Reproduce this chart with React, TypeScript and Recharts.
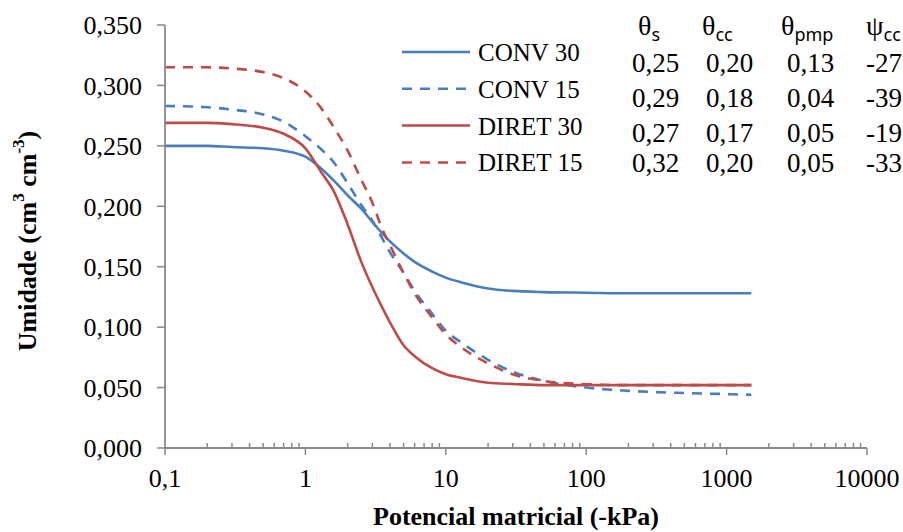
import React from 'react';
import { LineChart, Line, XAxis, YAxis, Legend } from 'recharts';

// matric potential (-kPa) where the curves were read
const potentials = [0.1, 0.2, 0.3, 0.5, 0.7, 1, 1.3, 1.6, 2, 2.5, 3, 3.5, 4, 5, 6, 8, 10, 13, 20, 30, 50, 100, 200, 500, 1000, 1500];

// water content (cm3 cm-3)
const conv30 = [0.25, 0.25, 0.249, 0.248, 0.246, 0.241, 0.231, 0.221, 0.209, 0.198, 0.187, 0.178, 0.171, 0.161, 0.154, 0.146, 0.141, 0.137, 0.132, 0.13, 0.129, 0.1285, 0.128, 0.128, 0.128, 0.128];
const conv15 = [0.283, 0.282, 0.28, 0.276, 0.27, 0.258, 0.247, 0.236, 0.219, 0.201, 0.188, 0.174, 0.162, 0.145, 0.13, 0.111, 0.097, 0.087, 0.073, 0.063, 0.0555, 0.05, 0.0473, 0.0455, 0.0446, 0.044];
const diret30 = [0.269, 0.269, 0.268, 0.265, 0.26, 0.248, 0.228, 0.212, 0.185, 0.154, 0.133, 0.117, 0.104, 0.085, 0.076, 0.066, 0.061, 0.058, 0.054, 0.053, 0.052, 0.052, 0.052, 0.052, 0.052, 0.052];
const diret15 = [0.315, 0.315, 0.314, 0.311, 0.306, 0.295, 0.281, 0.265, 0.246, 0.222, 0.203, 0.182, 0.168, 0.145, 0.128, 0.108, 0.094, 0.083, 0.07, 0.061, 0.0555, 0.0528, 0.052, 0.052, 0.052, 0.052];

const majorTicks = [0.1, 1, 10, 100, 1000, 10000];
const minorSteps = [2, 3, 4, 5, 6, 7, 8, 9];
const yTicks = [0, 0.05, 0.1, 0.15, 0.2, 0.25, 0.3, 0.35];

// parameter table
const thetaS = [0.25, 0.29, 0.27, 0.32];
const thetaCc = [0.2, 0.18, 0.17, 0.2];
const thetaPmp = [0.13, 0.04, 0.05, 0.05];
const psiCc = [-27, -39, -19, -33];

const BLUE = '#4A7EBB';
const RED = '#BE4B48';
const AXIS = '#898989';
const SERIF = "'Liberation Serif', 'Times New Roman', serif";
const SANS = "'Noto Sans', 'Liberation Sans', sans-serif";

const series = [
  { key: 'conv30', name: 'CONV 30', color: BLUE, dash: undefined },
  { key: 'conv15', name: 'CONV 15', color: BLUE, dash: '10 8' },
  { key: 'diret30', name: 'DIRET 30', color: RED, dash: undefined },
  { key: 'diret15', name: 'DIRET 15', color: RED, dash: '10 8' },
];

const data = potentials.map((p, i) => ({
  p,
  conv30: conv30[i],
  conv15: conv15[i],
  diret30: diret30[i],
  diret15: diret15[i],
}));

const allXTicks = [
  ...majorTicks,
  ...majorTicks.slice(0, -1).flatMap((d) => minorSteps.map((s) => +(d * s).toPrecision(3))),
];

const comma = (v: number, digits: number) => v.toFixed(digits).replace('.', ',');

const XTick = (props: any) => {
  const { x, y, payload } = props;
  const v = payload.value;
  const major = majorTicks.includes(v);
  return (
    <g>
      {major ? (
        <line x1={x} x2={x} y1={y} y2={y + 7} stroke={AXIS} strokeWidth={1.5} />
      ) : (
        <line x1={x} x2={x} y1={y} y2={y - 5} stroke={AXIS} strokeWidth={1.5} />
      )}
      {major && (
        <text x={x} y={y + 39} textAnchor="middle" fill="#000" fontSize={26} style={{ fontFamily: SERIF }}>
          {v === 0.1 ? '0,1' : String(v)}
        </text>
      )}
    </g>
  );
};

const renderLegend = () => (
  <svg width={250} height={150}>
    {series.map((s, i) => {
      const y = 22 + i * 36.8;
      return (
        <g key={s.key}>
          <line x1={2} x2={70} y1={y} y2={y} stroke={s.color} strokeWidth={2.5} strokeDasharray={s.dash} />
          <text x={78} y={y + 9} fontSize={25} style={{ fontFamily: SERIF }} fill="#000">
            {s.name}
          </text>
        </g>
      );
    })}
  </svg>
);

const rowBase = [72, 107, 142, 172];

export default function App() {
  return (
    <div style={{ position: 'relative', width: 903, height: 532, background: '#fff' }}>
      <style>{'body{margin:0}'}</style>
      <LineChart width={903} height={532} data={data} margin={{ top: 25, right: 36, bottom: 24, left: 0 }}>
        <XAxis
          dataKey="p"
          type="number"
          scale="log"
          domain={[0.1, 10000]}
          ticks={allXTicks}
          interval={0}
          tick={<XTick />}
          tickLine={false}
          tickSize={0}
          tickMargin={0}
          height={60}
          axisLine={{ stroke: AXIS, strokeWidth: 1.8 }}
          allowDataOverflow
        />
        <YAxis
          type="number"
          domain={[0, 0.35]}
          ticks={yTicks}
          interval={0}
          width={165}
          tickSize={8}
          tickMargin={15}
          tickFormatter={(v: number) => comma(v, 3)}
          tick={{ fill: '#000', fontSize: 26, style: { fontFamily: SERIF } }}
          tickLine={{ stroke: AXIS, strokeWidth: 1.5 }}
          axisLine={{ stroke: AXIS, strokeWidth: 1.8 }}
        />
        <Legend
          layout="vertical"
          align="center"
          verticalAlign="middle"
          content={renderLegend}
          wrapperStyle={{ position: 'absolute', top: 30, left: 400, width: 250, height: 150 }}
        />
        {series.map((s) => (
          <Line
            key={s.key}
            dataKey={s.key}
            name={s.name}
            type="monotone"
            stroke={s.color}
            strokeWidth={2.6}
            strokeDasharray={s.dash}
            dot={false}
            activeDot={false}
            isAnimationActive={false}
          />
        ))}
      </LineChart>
      <svg
        width={903}
        height={532}
        style={{ position: 'absolute', left: 0, top: 0, pointerEvents: 'none', overflow: 'hidden' }}
      >
        {/* axis titles */}
        <text
          x={27}
          y={241}
          transform="rotate(-90, 27, 241)"
          textAnchor="middle"
          dominantBaseline="central"
          fontSize={26}
          fontWeight="bold"
          style={{ fontFamily: SERIF }}
          fill="#000"
        >
          Umidade (cm<tspan dy={-9} fontSize={17}>3</tspan>
          <tspan dy={9}> cm</tspan>
          <tspan dy={-9} fontSize={17}>-3</tspan>
          <tspan dy={9}>)</tspan>
        </text>
        <text x={516} y={525} textAnchor="middle" fontSize={26} fontWeight="bold" style={{ fontFamily: SERIF }} fill="#000">
          Potencial matricial (-kPa)
        </text>

        {/* parameter table headers */}
        <g fill="#000">
          <text x={638} y={35} fontSize={28} style={{ fontFamily: SERIF }}>
            θ<tspan fontSize={18} style={{ fontFamily: SANS }} dy={6}>s</tspan>
          </text>
          <text x={702} y={35} fontSize={28} style={{ fontFamily: SERIF }}>
            θ<tspan fontSize={18} style={{ fontFamily: SANS }} dy={6}>cc</tspan>
          </text>
          <text x={781} y={35} fontSize={28} style={{ fontFamily: SERIF }}>
            θ<tspan fontSize={18} style={{ fontFamily: SANS }} dy={6}>pmp</tspan>
          </text>
          <text x={866} y={35} fontSize={28} style={{ fontFamily: SERIF }}>
            ψ<tspan fontSize={18} style={{ fontFamily: SANS }} dy={6}>cc</tspan>
          </text>
        </g>
        <g fill="#000" fontSize={27} style={{ fontFamily: SERIF }}>
          {rowBase.map((yb, i) => (
            <g key={i}>
              <text x={632} y={yb}>{comma(thetaS[i], 2)}</text>
              <text x={706} y={yb}>{comma(thetaCc[i], 2)}</text>
              <text x={787} y={yb}>{comma(thetaPmp[i], 2)}</text>
              <text x={866} y={yb}>{String(psiCc[i])}</text>
            </g>
          ))}
        </g>
      </svg>
    </div>
  );
}
